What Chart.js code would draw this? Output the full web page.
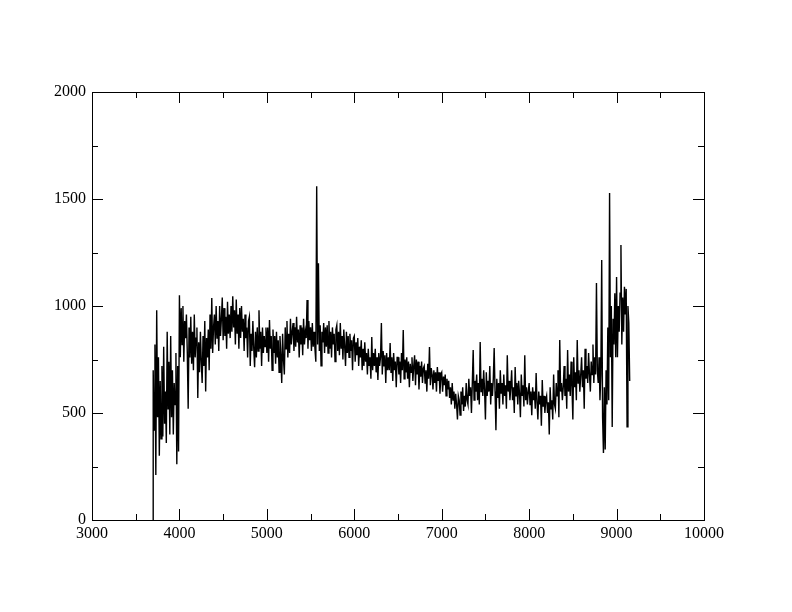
<!DOCTYPE html>
<html lang="en">
<head>
    <meta charset="UTF-8">
    <title>Spectrum</title>
    <script src="https://cdn.jsdelivr.net/npm/chart.js@4.4.0/dist/chart.umd.min.js"></script>
    <style>
        body { margin: 0; background: #ffffff; }
        #chart { display: block; }
    </style>
</head>
<body>
    <canvas id="chart" width="792" height="612"></canvas>
    <script>
        // wavelength (x) and flux (y), one row per 100 units
        const wavelengths = [
            3698,
            3700, 3710, 3720, 3730, 3740, 3750, 3760, 3770, 3780, 3790,
            3800, 3810, 3820, 3830, 3840, 3850, 3860, 3870, 3880, 3890,
            3900, 3910, 3920, 3930, 3940, 3950, 3960, 3970, 3980, 3990,
            4000, 4010, 4020, 4030, 4040, 4050, 4060, 4070, 4080, 4090,
            4100, 4110, 4120, 4130, 4140, 4150, 4160, 4170, 4180, 4190,
            4200, 4210, 4220, 4230, 4240, 4250, 4260, 4270, 4280, 4290,
            4300, 4310, 4320, 4330, 4340, 4350, 4360, 4370, 4380, 4390,
            4400, 4410, 4420, 4430, 4440, 4450, 4460, 4470, 4480, 4490,
            4500, 4510, 4520, 4530, 4540, 4550, 4560, 4570, 4580, 4590,
            4600, 4610, 4620, 4630, 4640, 4650, 4660, 4670, 4680, 4690,
            4700, 4710, 4720, 4730, 4740, 4750, 4760, 4770, 4780, 4790,
            4800, 4810, 4820, 4830, 4840, 4850, 4860, 4870, 4880, 4890,
            4900, 4910, 4920, 4930, 4940, 4950, 4960, 4970, 4980, 4990,
            5000, 5010, 5020, 5030, 5040, 5050, 5060, 5070, 5080, 5090,
            5100, 5110, 5120, 5130, 5140, 5150, 5160, 5170, 5180, 5190,
            5200, 5210, 5220, 5230, 5240, 5250, 5260, 5270, 5280, 5290,
            5300, 5310, 5320, 5330, 5340, 5350, 5360, 5370, 5380, 5390,
            5400, 5410, 5420, 5430, 5440, 5450, 5460, 5470, 5480, 5490,
            5500, 5510, 5520, 5530, 5540, 5550, 5560, 5570, 5580, 5590,
            5600, 5610, 5620, 5630, 5640, 5650, 5660, 5670, 5680, 5690,
            5700, 5710, 5720, 5730, 5740, 5750, 5760, 5770, 5780, 5790,
            5800, 5810, 5820, 5830, 5840, 5850, 5860, 5870, 5880, 5890,
            5900, 5910, 5920, 5930, 5940, 5950, 5960, 5970, 5980, 5990,
            6000, 6010, 6020, 6030, 6040, 6050, 6060, 6070, 6080, 6090,
            6100, 6110, 6120, 6130, 6140, 6150, 6160, 6170, 6180, 6190,
            6200, 6210, 6220, 6230, 6240, 6250, 6260, 6270, 6280, 6290,
            6300, 6310, 6320, 6330, 6340, 6350, 6360, 6370, 6380, 6390,
            6400, 6410, 6420, 6430, 6440, 6450, 6460, 6470, 6480, 6490,
            6500, 6510, 6520, 6530, 6540, 6550, 6560, 6570, 6580, 6590,
            6600, 6610, 6620, 6630, 6640, 6650, 6660, 6670, 6680, 6690,
            6700, 6710, 6720, 6730, 6740, 6750, 6760, 6770, 6780, 6790,
            6800, 6810, 6820, 6830, 6840, 6850, 6860, 6870, 6880, 6890,
            6900, 6910, 6920, 6930, 6940, 6950, 6960, 6970, 6980, 6990,
            7000, 7010, 7020, 7030, 7040, 7050, 7060, 7070, 7080, 7090,
            7100, 7110, 7120, 7130, 7140, 7150, 7160, 7170, 7180, 7190,
            7200, 7210, 7220, 7230, 7240, 7250, 7260, 7270, 7280, 7290,
            7300, 7310, 7320, 7330, 7340, 7350, 7360, 7370, 7380, 7390,
            7400, 7410, 7420, 7430, 7440, 7450, 7460, 7470, 7480, 7490,
            7500, 7510, 7520, 7530, 7540, 7550, 7560, 7570, 7580, 7590,
            7600, 7610, 7620, 7630, 7640, 7650, 7660, 7670, 7680, 7690,
            7700, 7710, 7720, 7730, 7740, 7750, 7760, 7770, 7780, 7790,
            7800, 7810, 7820, 7830, 7840, 7850, 7860, 7870, 7880, 7890,
            7900, 7910, 7920, 7930, 7940, 7950, 7960, 7970, 7980, 7990,
            8000, 8010, 8020, 8030, 8040, 8050, 8060, 8070, 8080, 8090,
            8100, 8110, 8120, 8130, 8140, 8150, 8160, 8170, 8180, 8190,
            8200, 8210, 8220, 8230, 8240, 8250, 8260, 8270, 8280, 8290,
            8300, 8310, 8320, 8330, 8340, 8350, 8360, 8370, 8380, 8390,
            8400, 8410, 8420, 8430, 8440, 8450, 8460, 8470, 8480, 8490,
            8500, 8510, 8520, 8530, 8540, 8550, 8560, 8570, 8580, 8590,
            8600, 8610, 8620, 8630, 8640, 8650, 8660, 8670, 8680, 8690,
            8700, 8710, 8720, 8730, 8740, 8750, 8760, 8770, 8780, 8790,
            8800, 8810, 8820, 8830, 8840, 8850, 8860, 8870, 8880, 8890,
            8900, 8910, 8920, 8930, 8940, 8950, 8960, 8970, 8980, 8990,
            9000, 9010, 9020, 9030, 9040, 9050, 9060, 9070, 9080, 9090,
            9100, 9110, 9120, 9130, 9140, 9150
        ];
        const flux = [
            0,
            700, 420, 820, 210, 980, 480, 760, 300, 650, 380,
            720, 390, 810, 450, 600, 360, 880, 520, 740, 400,
            860, 480, 700, 400, 640, 540, 780, 260, 720, 320,
            1050, 760, 990, 820, 1000, 740, 930, 850, 960, 780,
            520, 900, 760, 950, 730, 880, 700, 960, 760, 850,
            900, 570, 830, 690, 880, 740, 640, 860, 720, 930,
            600, 850, 760, 890, 700, 960, 800, 1037, 780, 900,
            960, 820, 1000, 850, 930, 790, 1000, 860, 940, 1040,
            840, 990, 860, 950, 800, 1020, 870, 960, 850, 1000,
            880, 1045, 900, 980, 820, 1030, 870, 960, 800, 990,
            850, 1000, 880, 940, 790, 960, 850, 900, 760, 930,
            950, 720, 870, 790, 930, 800, 714, 880, 760, 900,
            790, 980, 800, 880, 720, 900, 780, 860, 810, 900,
            780, 900, 740, 935, 800, 860, 700, 890, 780, 860,
            730, 880, 760, 840, 690, 860, 770, 640, 870, 750,
            680, 900, 800, 930, 760, 870, 780, 940, 820, 880,
            920, 790, 900, 810, 950, 830, 890, 760, 910, 820,
            900, 770, 940, 820, 880, 850, 1028, 800, 930, 840,
            900, 790, 920, 810, 880, 800, 740, 1560, 820, 1200,
            790, 910, 720, 880, 830, 920, 780, 900, 810, 910,
            780, 930, 800, 880, 760, 900, 820, 870, 740, 890,
            910, 790, 880, 770, 920, 800, 860, 750, 890, 810,
            720, 880, 780, 860, 760, 870, 790, 840, 700, 850,
            860, 740, 830, 770, 850, 720, 810, 760, 840, 700,
            800, 720, 830, 740, 780, 680, 800, 720, 760, 660,
            855, 700, 780, 720, 800, 690, 760, 654, 780, 720,
            760, 920, 680, 790, 720, 770, 640, 780, 700, 760,
            700, 827, 690, 760, 650, 780, 700, 740, 620, 760,
            760, 680, 740, 640, 780, 700, 888, 660, 750, 690,
            760, 660, 740, 620, 730, 690, 760, 650, 720, 770,
            630, 750, 680, 740, 610, 720, 670, 740, 640, 710,
            720, 640, 700, 600, 730, 660, 808, 630, 710, 680,
            610, 700, 640, 690, 600, 715, 650, 690, 590, 680,
            690, 600, 670, 630, 680, 580, 660, 610, 650, 570,
            620, 540, 640, 560, 600, 520, 590, 540, 470, 580,
            560, 490, 600, 540, 620, 510, 580, 530, 640, 560,
            540, 660, 580, 620, 500, 640, 794, 560, 650, 600,
            680, 560, 640, 540, 832, 600, 660, 580, 700, 610,
            470, 690, 580, 650, 600, 720, 540, 640, 580, 660,
            804, 600, 420, 660, 570, 640, 520, 700, 590, 640,
            540, 680, 580, 630, 520, 770, 600, 650, 560, 620,
            700, 560, 620, 500, 715, 580, 640, 540, 650, 590,
            480, 680, 580, 630, 530, 770, 560, 620, 540, 600,
            640, 540, 600, 490, 620, 560, 600, 520, 687, 550,
            470, 600, 540, 580, 440, 654, 530, 580, 500, 560,
            580, 500, 550, 400, 620, 520, 560, 470, 680, 540,
            520, 640, 580, 700, 480, 841, 600, 640, 560, 620,
            720, 580, 660, 520, 794, 600, 680, 580, 740, 620,
            470, 760, 620, 690, 560, 841, 640, 700, 600, 680,
            760, 620, 700, 520, 800, 660, 720, 640, 780, 680,
            600, 740, 680, 820, 640, 760, 680, 1107, 700, 640,
            760, 560, 680, 1215, 480, 313, 620, 330, 700, 540,
            900, 560, 1528, 760, 1000, 435, 940, 820, 1060, 760,
            1136, 760, 1000, 880, 1060, 1285, 820, 1040, 880, 1090,
            960, 1080, 435, 1000, 920, 650
        ];

        const xMin = 3000, xMax = 10000, xMajor = 1000, xMinor = 500;
        const yMin = 0, yMax = 2000, yMajor = 500, yMinor = 250;

        Chart.defaults.font.family = "'Liberation Serif', 'Times New Roman', serif";
        Chart.defaults.font.size = 16;
        Chart.defaults.color = "#000000";

        // box round the plot plus inward ticks on all four sides
        const frameTicks = {
            id: "frameTicks",
            afterDraw(chart) {
                const ctx = chart.ctx;
                const a = chart.chartArea;
                const xs = chart.scales.x, ys = chart.scales.y;
                ctx.save();
                ctx.strokeStyle = "#000000";
                ctx.lineWidth = 1;
                ctx.beginPath();
                for (let v = xMin; v <= xMax; v += xMinor) {
                    const px = Math.round(xs.getPixelForValue(v)) + 0.5;
                    const len = v % xMajor === 0 ? 11 : 6;
                    ctx.moveTo(px, a.bottom); ctx.lineTo(px, a.bottom - len);
                    ctx.moveTo(px, a.top); ctx.lineTo(px, a.top + len);
                }
                for (let v = yMin; v <= yMax; v += yMinor) {
                    const py = Math.round(ys.getPixelForValue(v)) + 0.5;
                    const len = v % yMajor === 0 ? 11 : 6;
                    ctx.moveTo(a.left, py); ctx.lineTo(a.left + len, py);
                    ctx.moveTo(a.right, py); ctx.lineTo(a.right - len, py);
                }
                ctx.stroke();
                ctx.strokeRect(Math.round(a.left) + 0.5, Math.round(a.top) + 0.5,
                    Math.round(a.right - a.left), Math.round(a.bottom - a.top));
                ctx.restore();
            }
        };

        new Chart(document.getElementById("chart"), {
            type: "scatter",
            data: {
                datasets: [{
                    data: wavelengths.map((w, i) => ({ x: w, y: flux[i] })),
                    showLine: true,
                    borderColor: "#000000",
                    borderWidth: 1.4,
                    pointRadius: 0,
                    tension: 0
                }]
            },
            options: {
                responsive: false,
                animation: false,
                layout: { padding: { top: 92, right: 88, left: 0, bottom: 0 } },
                plugins: { legend: { display: false }, tooltip: { enabled: false } },
                scales: {
                    x: {
                        type: "linear",
                        min: xMin, max: xMax,
                        grid: { display: false, drawTicks: false },
                        border: { display: false },
                        ticks: { stepSize: xMajor, padding: 4, maxRotation: 0, callback: v => String(v) },
                        afterFit: s => { s.height = 92; }
                    },
                    y: {
                        min: yMin, max: yMax,
                        grid: { display: false, drawTicks: false },
                        border: { display: false },
                        ticks: { stepSize: yMajor, padding: 6, callback: v => String(v) },
                        afterFit: s => { s.width = 92; }
                    }
                }
            },
            plugins: [frameTicks]
        });
    </script>
</body>
</html>
